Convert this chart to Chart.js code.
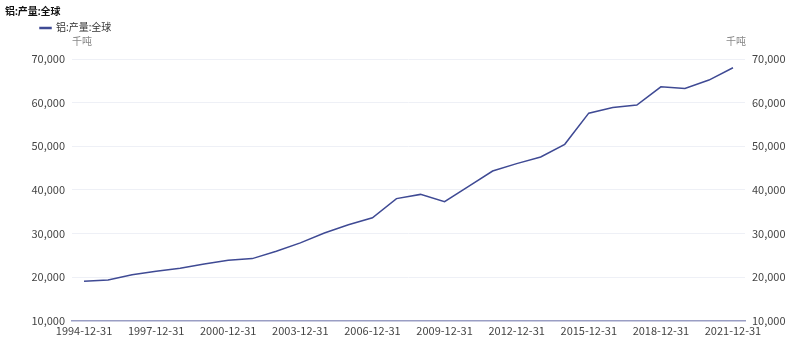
<!DOCTYPE html>
<html>
<head>
<meta charset="utf-8">
<script src="https://cdn.jsdelivr.net/npm/chart.js@4.4.0/dist/chart.umd.min.js"></script>
<style>
  html, body { margin: 0; padding: 0; background: #fff; }
  #wrap { width: 800px; height: 341px; }
</style>
</head>
<body>
<div id="wrap"><canvas id="aluChart"></canvas></div>
<script>
// Yearly global aluminium output (thousand tonnes)
const years = [
  '1994-12-31', '1995-12-31', '1996-12-31', '1997-12-31', '1998-12-31', '1999-12-31',
  '2000-12-31', '2001-12-31', '2002-12-31', '2003-12-31', '2004-12-31', '2005-12-31',
  '2006-12-31', '2007-12-31', '2008-12-31', '2009-12-31', '2010-12-31', '2011-12-31',
  '2012-12-31', '2013-12-31', '2014-12-31', '2015-12-31', '2016-12-31', '2017-12-31',
  '2018-12-31', '2019-12-31', '2020-12-31', '2021-12-31'
];
const output = [
  19050, 19350, 20570, 21330, 22030, 23030,
  23860, 24250, 25930, 27860, 30120, 32000,
  33600, 38000, 38970, 37290, 40800, 44320,
  46020, 47540, 50450, 57590, 58900, 59430,
  63630, 63260, 65170, 67990
];
const seriesName = '铝:产量:全球';
const unitLabel = '千吨';
const yMin = 10000;
const yMax = 70000;
const yStep = 10000;

const fontFamily = '"Noto Sans CJK SC", "Microsoft YaHei", sans-serif';
const cjkFamily = '"Noto Sans", "Noto Sans CJK SC", sans-serif';

// Draws the unit text above both value axes
const unitPlugin = {
  id: 'unitText',
  afterDraw(chart) {
    const ctx = chart.ctx;
    const area = chart.chartArea;
    ctx.save();
    ctx.font = '10px ' + cjkFamily;
    ctx.fillStyle = '#888';
    ctx.textBaseline = 'middle';
    ctx.textAlign = 'left';
    ctx.fillText(unitLabel, area.left, 42);
    ctx.textAlign = 'right';
    ctx.fillText(unitLabel, area.right + 1, 42);
    ctx.restore();
  }
};

// Shift the legend right and make room below it
const legendShift = {
  id: 'legendShift',
  beforeInit(chart) {
    const fit = chart.legend.fit;
    chart.legend.fit = function () {
      fit.bind(chart.legend)();
      this.height += 16;
    };
  },
  afterLayout(chart) {
    chart.legend.left += 33;
  }
};

const ctx = document.getElementById('aluChart').getContext('2d');

new Chart(ctx, {
  type: 'line',
  data: {
    labels: years,
    datasets: [{
      label: seriesName,
      data: output,
      borderColor: '#3f4a94',
      backgroundColor: '#3f4a94',
      borderWidth: 1.5,
      pointRadius: 0,
      pointHoverRadius: 3,
      tension: 0,
      yAxisID: 'y'
    }]
  },
  options: {
    responsive: true,
    maintainAspectRatio: false,
    animation: false,
    layout: { padding: { left: 5, right: 0, top: 0, bottom: 1 } },
    plugins: {
      title: {
        display: true,
        text: seriesName,
        align: 'start',
        color: '#111',
        font: { family: cjkFamily, size: 10, weight: 'bold' },
        padding: { top: 6, bottom: 3 }
      },
      legend: {
        display: true,
        align: 'start',
        labels: {
          boxWidth: 11,
          boxHeight: 1,
          color: '#333',
          padding: 2,
          font: { family: cjkFamily, size: 10 }
        }
      },
      tooltip: { enabled: true }
    },
    scales: {
      x: {
        type: 'category',
        offset: true,
        grid: { display: false, drawTicks: false },
        border: { display: true, color: '#9a9ec4', width: 1.5 },
        ticks: {
          autoSkip: false,
          maxRotation: 0,
          color: '#444',
          padding: 3,
          font: { family: fontFamily, size: 11 },
          callback: function (val, i) {
            return i % 3 === 0 ? this.getLabelForValue(val) : '';
          }
        }
      },
      y: {
        position: 'left',
        min: yMin,
        max: yMax,
        afterFit(scale) { scale.width = 67; },
        grid: { color: '#eef0f6', drawTicks: false },
        border: { display: false },
        ticks: {
          stepSize: yStep,
          color: '#444',
          padding: 7,
          font: { family: fontFamily, size: 11 }
        }
      },
      y1: {
        position: 'right',
        min: yMin,
        max: yMax,
        afterFit(scale) { scale.width = 55; },
        grid: { display: false, drawTicks: false },
        border: { display: false },
        ticks: {
          stepSize: yStep,
          color: '#444',
          padding: 7,
          font: { family: fontFamily, size: 11 }
        }
      }
    }
  },
  plugins: [unitPlugin, legendShift]
});
</script>
</body>
</html>
